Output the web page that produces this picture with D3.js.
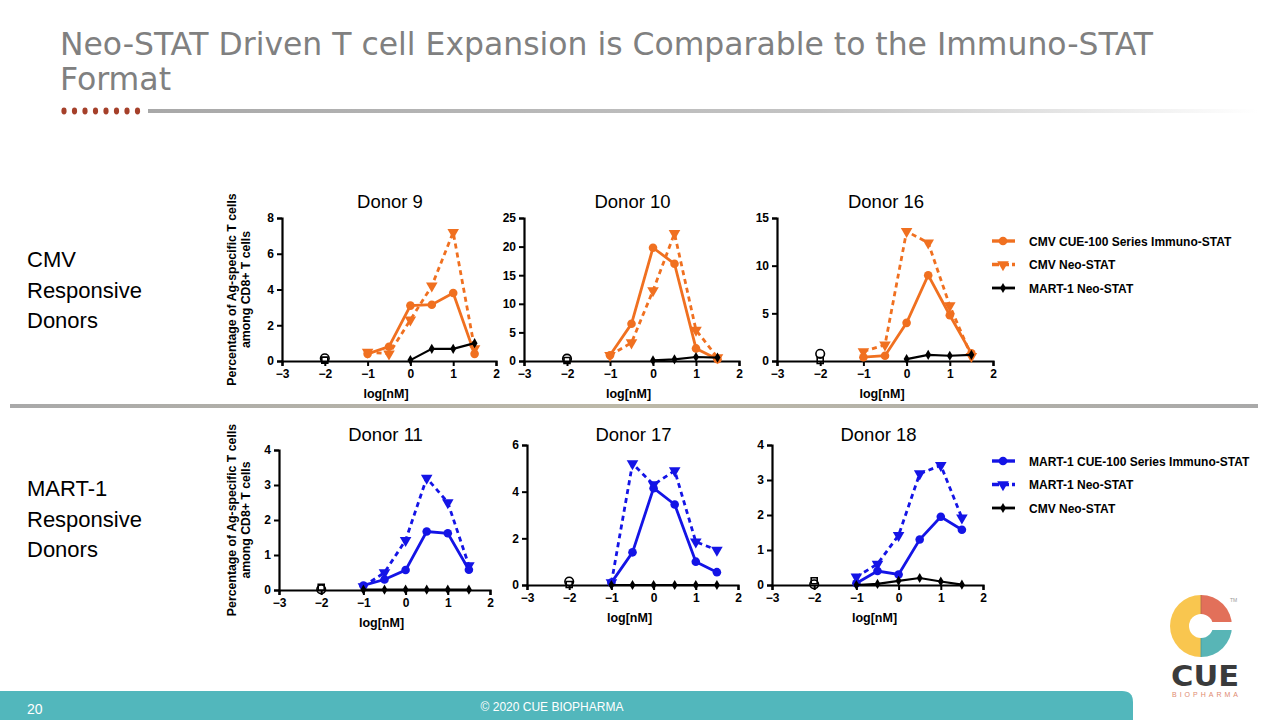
<!DOCTYPE html>
<html><head><meta charset="utf-8">
<script src="https://cdn.jsdelivr.net/npm/d3@7"></script>
<style>
html,body{margin:0;padding:0;background:#fff;}
svg{display:block;font-family:"Liberation Sans",Arial,sans-serif;}
</style></head>
<body>
<svg id="c" width="1280" height="720"></svg>
<script>
// ---------------- DATA ----------------
const doses = [-1, -0.5, 0, 0.5, 1, 1.5];
const xTickValues = [-3, -2, -1, 0, 1, 2];
const controlDose = -2;

const donorNames = ["Donor 9", "Donor 10", "Donor 16", "Donor 11", "Donor 17", "Donor 18"];
const yMaxes = [8, 25, 15, 4, 6, 4];
const yTicks9 = [0, 2, 4, 6, 8];
const yTicks10 = [0, 5, 10, 15, 20, 25];
const yTicks16 = [0, 5, 10, 15];
const yTicks11 = [0, 1, 2, 3, 4];
const yTicks17 = [0, 2, 4, 6];
const yTicks18 = [0, 1, 2, 3, 4];

// CMV responsive donors
const d9Immuno  = [0.4, 0.8, 3.1, 3.15, 3.8, 0.4];
const d9Neo     = [0.5, 0.4, 2.3, 4.2, 7.2, 0.7];
const d9Other   = [null, null, 0.05, 0.68, 0.68, 1.0];
const d9Ctrl    = [0.15, 0.05];   // open circle, open square at -2

const d10Immuno = [1.0, 6.5, 19.8, 17.0, 2.2, 0.3];
const d10Neo    = [1.0, 3.2, 12.3, 22.3, 5.4, 0.6];
const d10Other  = [null, null, 0.1, 0.3, 0.7, 0.6];
const d10Ctrl   = [0.4, 0.1];

const d16Immuno = [0.4, 0.55, 4.0, 9.0, 4.8, 0.8];
const d16Neo    = [1.0, 1.7, 13.6, 12.4, 5.8, 0.5];
const d16Other  = [null, null, 0.2, 0.65, 0.55, 0.65];
const d16Ctrl   = [0.75, 0.05];

// MART-1 responsive donors
const d11Immuno = [0.13, 0.3, 0.57, 1.67, 1.62, 0.58];
const d11Neo    = [0.1, 0.5, 1.42, 3.2, 2.5, 0.7];
const d11Other  = [0.01, 0.01, 0.01, 0.01, 0.01, 0.01];
const d11Ctrl   = [0.02, 0.08];

const d17Immuno = [0.1, 1.4, 4.15, 3.45, 1.0, 0.55];
const d17Neo    = [0.1, 5.2, 4.3, 4.9, 1.85, 1.5];
const d17Other  = [0.0, 0.0, 0.0, 0.0, 0.0, 0.0];
const d17Ctrl   = [0.15, 0.02];

const d18Immuno = [0.05, 0.4, 0.3, 1.3, 1.95, 1.58];
const d18Neo    = [0.23, 0.6, 1.42, 3.18, 3.42, 1.92];
const d18Other  = [0.0, 0.03, 0.12, 0.2, 0.1, 0.01];
const d18Ctrl   = [0.02, 0.12];

const legendCMV  = ["CMV CUE-100 Series Immuno-STAT", "CMV Neo-STAT", "MART-1 Neo-STAT"];
const legendMART = ["MART-1 CUE-100 Series Immuno-STAT", "MART-1 Neo-STAT", "CMV Neo-STAT"];

// ---------------- LAYOUT / STYLE ----------------
const ORANGE = "#f07020", BLUE = "#1414e6", BLACK = "#000";
const panels = [
  {name: donorNames[0], ymax: yMaxes[0], ticks: yTicks9,  imm: d9Immuno,  neo: d9Neo,  oth: d9Other,  ctrl: d9Ctrl,  col: ORANGE, x0: 282, x1: 496, yt: 218, yb: 361, ty: 208, ylab: true},
  {name: donorNames[1], ymax: yMaxes[1], ticks: yTicks10, imm: d10Immuno, neo: d10Neo, oth: d10Other, ctrl: d10Ctrl, col: ORANGE, x0: 524, x1: 739, yt: 218, yb: 361, ty: 208},
  {name: donorNames[2], ymax: yMaxes[2], ticks: yTicks16, imm: d16Immuno, neo: d16Neo, oth: d16Other, ctrl: d16Ctrl, col: ORANGE, x0: 777, x1: 993, yt: 218, yb: 361, ty: 208},
  {name: donorNames[3], ymax: yMaxes[3], ticks: yTicks11, imm: d11Immuno, neo: d11Neo, oth: d11Other, ctrl: d11Ctrl, col: BLUE, x0: 279, x1: 490, yt: 450, yb: 590, ty: 441, ylab: true},
  {name: donorNames[4], ymax: yMaxes[4], ticks: yTicks17, imm: d17Immuno, neo: d17Neo, oth: d17Other, ctrl: d17Ctrl, col: BLUE, x0: 527, x1: 738, yt: 445, yb: 585, ty: 441},
  {name: donorNames[5], ymax: yMaxes[5], ticks: yTicks18, imm: d18Immuno, neo: d18Neo, oth: d18Other, ctrl: d18Ctrl, col: BLUE, x0: 772, x1: 983, yt: 445, yb: 585, ty: 441}
];

const svg = d3.select("#c");
const defs = svg.append("defs");

// ---------------- HEADER ----------------
const g1 = defs.append("linearGradient").attr("id", "hdrline").attr("x1", "0").attr("x2", "1");
g1.append("stop").attr("offset", "0").attr("stop-color", "#a8a8a8");
g1.append("stop").attr("offset", "0.6").attr("stop-color", "#c4c4c4");
g1.append("stop").attr("offset", "1").attr("stop-color", "#ffffff");

svg.append("text").attr("x", 60).attr("y", 55).attr("font-size", 32)
  .attr("font-family", "'DejaVu Sans Condensed','DejaVu Sans',sans-serif").attr("font-weight", 300)
  .attr("fill", "#808080").attr("textLength", 1093).attr("lengthAdjust", "spacingAndGlyphs")
  .text("Neo-STAT Driven T cell Expansion is Comparable to the Immuno-STAT");
svg.append("text").attr("x", 60).attr("y", 90).attr("font-size", 32)
  .attr("font-family", "'DejaVu Sans Condensed','DejaVu Sans',sans-serif").attr("font-weight", 300)
  .attr("fill", "#808080").attr("textLength", 111).attr("lengthAdjust", "spacingAndGlyphs")
  .text("Format");
const dotXs = d3.range(8).map(i => 64 + i * 10.5);
svg.selectAll(".hdot").data(dotXs).join("ellipse")
  .attr("cx", d => d).attr("cy", 111).attr("rx", 2.6).attr("ry", 3.4).attr("fill", "#a5402a");
svg.append("rect").attr("x", 148).attr("y", 109).attr("width", 1110).attr("height", 4).attr("fill", "url(#hdrline)");

// separator
const g2 = defs.append("linearGradient").attr("id", "sep").attr("x1", "0").attr("x2", "1");
g2.append("stop").attr("offset", "0").attr("stop-color", "#a9a9a9");
g2.append("stop").attr("offset", "0.5").attr("stop-color", "#bdb9a8");
g2.append("stop").attr("offset", "1").attr("stop-color", "#a9a9a9");
svg.append("rect").attr("x", 10).attr("y", 404).attr("width", 1248).attr("height", 4).attr("fill", "url(#sep)");

// side labels
[["CMV", "Responsive", "Donors", 267], ["MART-1", "Responsive", "Donors", 496]].forEach(l => {
  const t = svg.append("text").attr("x", 27).attr("y", l[3]).attr("font-size", 22).attr("fill", "#000");
  t.append("tspan").attr("x", 27).attr("dy", 0).text(l[0]);
  t.append("tspan").attr("x", 27).attr("dy", 30.5).text(l[1]);
  t.append("tspan").attr("x", 27).attr("dy", 30.5).text(l[2]);
});

// ---------------- PANELS ----------------
const symCircle = d3.symbol().type(d3.symbolCircle).size(58);
const symTri = d3.symbol().type(d3.symbolTriangle).size(58);
const symDiam = d3.symbol().type(d3.symbolDiamond).size(30);
const symSq = d3.symbol().type(d3.symbolSquare).size(36);

panels.forEach(p => {
  const x = d3.scaleLinear().domain([-3, 2]).range([p.x0, p.x1]);
  const y = d3.scaleLinear().domain([0, p.ymax]).range([p.yb, p.yt]);
  const g = svg.append("g");

  // axes
  const ax = g.append("g").attr("transform", `translate(0,${p.yb})`)
    .call(d3.axisBottom(x).tickValues(xTickValues).tickSize(5).tickPadding(3).tickFormat(d3.format("d")));
  const ay = g.append("g").attr("transform", `translate(${p.x0},0)`)
    .call(d3.axisLeft(y).tickValues(p.ticks).tickSize(5).tickPadding(3).tickFormat(d3.format("d")));
  [ax, ay].forEach(a => {
    a.attr("font-family", "'Liberation Sans',Arial,sans-serif");
    a.select(".domain").attr("stroke", "#000").attr("stroke-width", 2.2);
    a.selectAll(".tick line").attr("stroke", "#000").attr("stroke-width", 2);
    a.selectAll(".tick text").attr("font-size", 12).attr("font-weight", "bold").attr("fill", "#000");
  });

  // titles
  g.append("text").attr("x", (p.x0 + p.x1) / 2 + 1).attr("y", p.ty).attr("text-anchor", "middle")
    .attr("font-size", 18.5).attr("fill", "#000").text(p.name);
  g.append("text").attr("x", (p.x0 + p.x1) / 2 - 3).attr("y", p.yb + 37).attr("text-anchor", "middle")
    .attr("font-size", 12.5).attr("font-weight", "bold").attr("fill", "#000").text("log[nM]");
  if (p.ylab) {
    const cy = (p.yt + p.yb) / 2;
    const t = g.append("text").attr("transform", `translate(236,${cy}) rotate(-90)`)
      .attr("text-anchor", "middle").attr("font-size", 12.3).attr("font-weight", "bold").attr("fill", "#000");
    t.append("tspan").attr("x", 0).attr("y", 0).text("Percentage of Ag-specific T cells");
    t.append("tspan").attr("x", 0).attr("y", 13.5).text("among CD8+ T cells");
  }

  const pts = arr => doses.map((d, i) => ({x: d, y: arr[i]})).filter(d => d.y !== null);
  const line = d3.line().x(d => x(d.x)).y(d => y(d.y));

  // control (open markers at -2)
  g.append("path").attr("d", symSq()).attr("transform", `translate(${x(controlDose)},${y(p.ctrl[1])})`)
    .attr("fill", "none").attr("stroke", "#000").attr("stroke-width", 1.6);
  g.append("path").attr("d", symCircle()).attr("transform", `translate(${x(controlDose)},${y(p.ctrl[0])})`)
    .attr("fill", "none").attr("stroke", "#000").attr("stroke-width", 1.6);

  // neo-stat dashed
  g.append("path").datum(pts(p.neo)).attr("d", line).attr("fill", "none").attr("stroke", p.col)
    .attr("stroke-width", 2.8).attr("stroke-dasharray", "5,4");
  g.selectAll(".tri").data(pts(p.neo)).join("path").attr("d", symTri())
    .attr("transform", d => `translate(${x(d.x)},${y(d.y)}) rotate(180)`).attr("fill", p.col);

  // immuno-stat solid
  g.append("path").datum(pts(p.imm)).attr("d", line).attr("fill", "none").attr("stroke", p.col).attr("stroke-width", 2.8);
  g.selectAll(".circ").data(pts(p.imm)).join("path").attr("d", symCircle())
    .attr("transform", d => `translate(${x(d.x)},${y(d.y)})`).attr("fill", p.col);

  // other-antigen neo-stat (black)
  g.append("path").datum(pts(p.oth)).attr("d", line).attr("fill", "none").attr("stroke", BLACK).attr("stroke-width", 2.2);
  g.selectAll(".dia").data(pts(p.oth)).join("path").attr("d", symDiam())
    .attr("transform", d => `translate(${x(d.x)},${y(d.y)})`).attr("fill", BLACK);
});

// ---------------- LEGENDS ----------------
function legend(labels, col, y0) {
  const styles = [{dash: null, sym: symCircle, rot: 0, c: col, w: 2.8},
                  {dash: "5,4", sym: symTri, rot: 180, c: col, w: 2.8},
                  {dash: null, sym: symDiam, rot: 0, c: BLACK, w: 2.2}];
  labels.forEach((lab, i) => {
    const yy = y0 + i * 23.5;
    const s = styles[i];
    const ln = svg.append("line").attr("x1", 992).attr("x2", 1015).attr("y1", yy).attr("y2", yy)
      .attr("stroke", s.c).attr("stroke-width", s.w + 0.6);
    if (s.dash) ln.attr("stroke-dasharray", "7,3");
    svg.append("path").attr("d", s.sym()).attr("transform", `translate(1003,${yy}) rotate(${s.rot})`).attr("fill", s.c);
    svg.append("text").attr("x", 1029).attr("y", yy + 4.5).attr("font-size", 12).attr("font-weight", "bold")
      .attr("fill", "#000").text(lab);
  });
}
legend(legendCMV, ORANGE, 241);
legend(legendMART, BLUE, 461);

// ---------------- FOOTER ----------------
svg.append("path").attr("d", "M0,691 L1122,691 Q1133,691 1133,702 L1133,720 L0,720 Z").attr("fill", "#52b7bc");
svg.append("text").attr("x", 27).attr("y", 714).attr("font-size", 14).attr("fill", "#fff").text("20");
svg.append("text").attr("x", 552).attr("y", 711).attr("text-anchor", "middle").attr("font-size", 12)
  .attr("fill", "#fff").text("© 2020 CUE BIOPHARMA");

// logo
const lg = svg.append("g").attr("transform", "translate(1201,626)");
const arc = d3.arc().innerRadius(0).outerRadius(31);
lg.append("path").attr("d", arc({startAngle: Math.PI, endAngle: 2 * Math.PI})).attr("fill", "#f9c64f");
lg.append("path").attr("d", arc({startAngle: 0, endAngle: Math.PI / 2})).attr("fill", "#e2705a");
lg.append("path").attr("d", arc({startAngle: Math.PI / 2, endAngle: Math.PI})).attr("fill", "#58b5b6");
lg.append("circle").attr("r", 12).attr("fill", "#fff");
lg.append("rect").attr("x", 0).attr("y", -4).attr("width", 33).attr("height", 8).attr("fill", "#fff");
lg.append("line").attr("x1", 0).attr("x2", 0).attr("y1", -31).attr("y2", -12).attr("stroke", "#b06a4a").attr("stroke-width", 0.8);
lg.append("line").attr("x1", 0).attr("x2", 0).attr("y1", 12).attr("y2", 31).attr("stroke", "#4a9a9a").attr("stroke-width", 0.8);
svg.append("text").attr("x", 1230).attr("y", 602).attr("font-size", 5).attr("fill", "#999").text("TM");
svg.append("text").attr("x", 1205).attr("y", 686).attr("text-anchor", "middle").attr("font-size", 28)
  .attr("font-weight", "bold").attr("fill", "#3a3b3c").attr("textLength", 68).attr("lengthAdjust", "spacingAndGlyphs")
  .attr("font-family", "'DejaVu Sans',sans-serif").text("CUE");
svg.append("text").attr("x", 1205).attr("y", 697).attr("text-anchor", "middle").attr("font-size", 7)
  .attr("fill", "#e08a70").attr("textLength", 66).attr("lengthAdjust", "spacing").text("BIOPHARMA");
</script>
</body></html>
